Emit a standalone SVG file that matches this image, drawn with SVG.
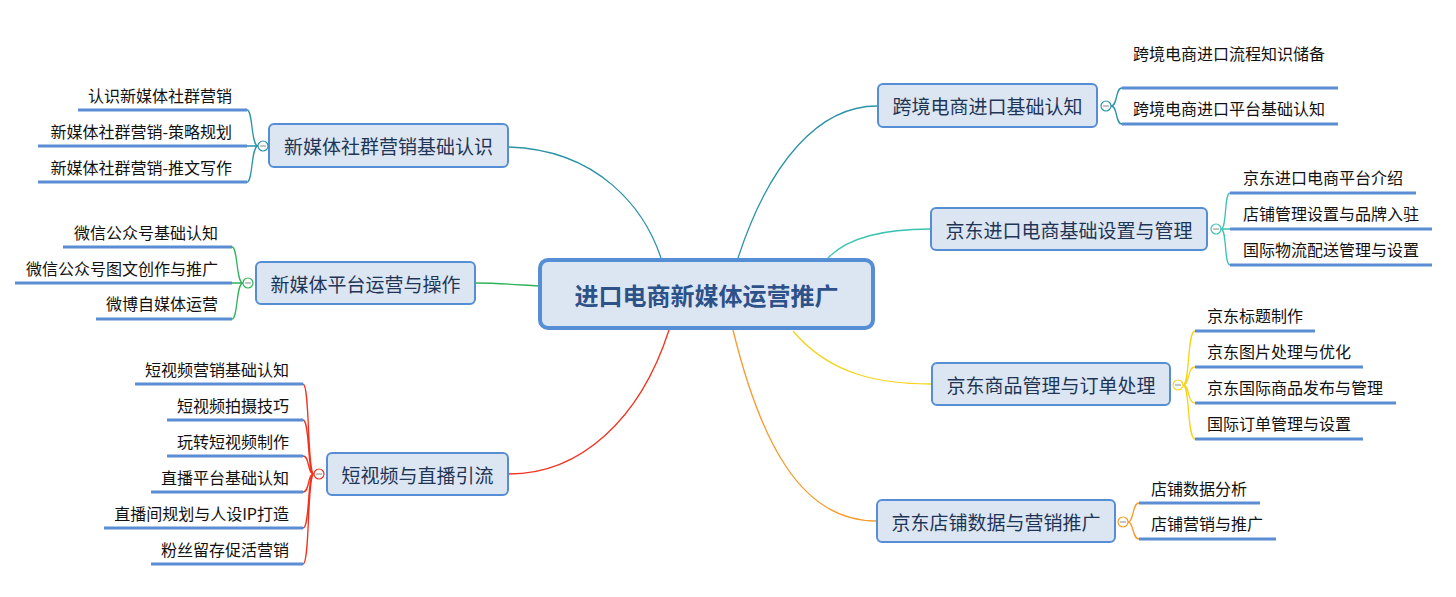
<svg xmlns="http://www.w3.org/2000/svg" width="1456" height="597" viewBox="0 0 1456 597">
<style>
text{font-family:"Noto Sans CJK SC","Microsoft YaHei",sans-serif;dominant-baseline:central}
.node rect{fill:#DCE6F2;stroke:#558ED5;stroke-width:2}
.nt{font-size:19px;fill:#1F3556;text-anchor:middle}
.ct{font-size:24px;font-weight:bold;fill:#2D5189;text-anchor:middle}
.leaf{font-size:16px;fill:#111}
.r{text-anchor:end}
.ul{stroke:#5B8DD4;stroke-width:3;fill:none}
.c{fill:none;stroke-width:1.3}
.dot{fill:#fff;stroke-width:1.2}
.minus{stroke:#888;stroke-width:1}
.teal{stroke:#2A93A6}.turq{stroke:#3CC2B3}.green{stroke:#2FB35A}.red{stroke:#F2321E}.yellow{stroke:#F5D41A}.orange{stroke:#F79A2A}
</style>
<rect width="1456" height="597" fill="#fff"/>
<g id="connectors">
<path class="c teal" d="M509,147 C600,150 645,210 661,258"/>
<path class="c teal" d="M738,258 C770,160 820,106 877,106"/>
<path class="c turq" d="M828,258 C850,235 890,229 930,229"/>
<path class="c green" d="M476,283 C500,283 520,285 538,286"/>
<path class="c red" d="M669,330 C640,420 580,474 509,474"/>
<path class="c orange" d="M733,330 C760,440 800,521 876,521"/>
<path class="c yellow" d="M793,331 C830,375 880,384 931,384"/>
<!-- A brackets -->
<path class="c teal" d="M258,146 C251,146 253,110 247,110 M258,146 L247,146 M258,146 C251,146 253,182 247,182"/>
<!-- B brackets -->
<path class="c green" d="M243,283 C236,283 238,247 232,247 M243,283 L232,283 M243,283 C236,283 238,319 232,319"/>
<!-- C brackets -->
<path class="c red" d="M314,474 C307,474 310,384 303,384 M314,474 C307,474 310,420 303,420 M314,474 C307,474 310,456 303,456 M314,474 C307,474 310,492 303,492 M314,474 C307,474 310,528 303,528 M314,474 C307,474 310,564 303,564"/>
<!-- D brackets -->
<path class="c teal" d="M1111,106 C1118,106 1115,88 1122,88 M1111,106 C1118,106 1115,124 1122,124"/>
<!-- E brackets -->
<path class="c turq" d="M1221,229 C1227,229 1224,193 1230,193 M1221,229 L1230,229 M1221,229 C1227,229 1224,265 1230,265"/>
<!-- F brackets -->
<path class="c yellow" d="M1183,385 C1190,385 1187,331 1195,331 M1183,385 C1190,385 1187,367 1195,367 M1183,385 C1190,385 1187,403 1195,403 M1183,385 C1190,385 1187,439 1195,439"/>
<!-- G brackets -->
<path class="c orange" d="M1128,522 C1134,522 1132,503 1139,503 M1128,522 C1134,522 1132,539 1139,539"/>
</g>
<g id="center">
<rect x="540" y="260" width="333" height="68" rx="8" fill="#DCE6F2" stroke="#558ED5" stroke-width="4"/>
<text class="ct" x="706.5" y="294">进口电商新媒体运营推广</text>
</g>
<g id="nodeA" class="node">
<rect x="269" y="124" width="239" height="43" rx="5"/>
<text class="nt" x="388.5" y="145.5">新媒体社群营销基础认识</text>
<circle class="dot teal" cx="263" cy="146" r="5"/><line class="minus" x1="260" y1="146" x2="266" y2="146"/>
</g>
<g id="nodeA-children">
<line class="ul" x1="78" y1="110" x2="247" y2="110"/><text class="leaf r" x="232" y="95">认识新媒体社群营销</text>
<line class="ul" x1="38" y1="146" x2="247" y2="146"/><text class="leaf r" x="232" y="131">新媒体社群营销-策略规划</text>
<line class="ul" x1="38" y1="182" x2="247" y2="182"/><text class="leaf r" x="232" y="167">新媒体社群营销-推文写作</text>
</g>
<g id="nodeB" class="node">
<rect x="256" y="262" width="219" height="42" rx="5"/>
<text class="nt" x="365.5" y="283">新媒体平台运营与操作</text>
<circle class="dot green" cx="248" cy="283" r="5"/><line class="minus" x1="245" y1="283" x2="251" y2="283"/>
</g>
<g id="nodeB-children">
<line class="ul" x1="63" y1="247" x2="232" y2="247"/><text class="leaf r" x="218" y="232">微信公众号基础认知</text>
<line class="ul" x1="15" y1="283" x2="232" y2="283"/><text class="leaf r" x="218" y="268">微信公众号图文创作与推广</text>
<line class="ul" x1="96" y1="319" x2="232" y2="319"/><text class="leaf r" x="218" y="303">微博自媒体运营</text>
</g>
<g id="nodeC" class="node">
<rect x="327" y="453" width="181" height="42" rx="5"/>
<text class="nt" x="417.5" y="474">短视频与直播引流</text>
<circle class="dot red" cx="319" cy="474" r="5"/><line class="minus" x1="316" y1="474" x2="322" y2="474"/>
</g>
<g id="nodeC-children">
<line class="ul" x1="135" y1="384" x2="303" y2="384"/><text class="leaf r" x="289" y="369">短视频营销基础认知</text>
<line class="ul" x1="167" y1="420" x2="303" y2="420"/><text class="leaf r" x="289" y="405">短视频拍摄技巧</text>
<line class="ul" x1="167" y1="456" x2="303" y2="456"/><text class="leaf r" x="289" y="441">玩转短视频制作</text>
<line class="ul" x1="151" y1="492" x2="303" y2="492"/><text class="leaf r" x="289" y="477">直播平台基础认知</text>
<line class="ul" x1="104" y1="528" x2="303" y2="528"/><text class="leaf r" x="289" y="513">直播间规划与人设IP打造</text>
<line class="ul" x1="151" y1="564" x2="303" y2="564"/><text class="leaf r" x="289" y="549">粉丝留存促活营销</text>
</g>
<g id="nodeD" class="node">
<rect x="878" y="84" width="219" height="43" rx="5"/>
<text class="nt" x="987.5" y="105.5">跨境电商进口基础认知</text>
<circle class="dot teal" cx="1106" cy="106" r="5"/><line class="minus" x1="1103" y1="106" x2="1109" y2="106"/>
</g>
<g id="nodeD-children">
<line class="ul" x1="1122" y1="88" x2="1338" y2="88"/><text class="leaf" x="1133" y="53">跨境电商进口流程知识储备</text>
<line class="ul" x1="1122" y1="124" x2="1338" y2="124"/><text class="leaf" x="1133" y="108">跨境电商进口平台基础认知</text>
</g>
<g id="nodeE" class="node">
<rect x="931" y="208" width="276" height="42" rx="5"/>
<text class="nt" x="1069" y="229">京东进口电商基础设置与管理</text>
<circle class="dot turq" cx="1216" cy="229" r="5"/><line class="minus" x1="1213" y1="229" x2="1219" y2="229"/>
</g>
<g id="nodeE-children">
<line class="ul" x1="1230" y1="193" x2="1416" y2="193"/><text class="leaf" x="1243" y="177">京东进口电商平台介绍</text>
<line class="ul" x1="1230" y1="229" x2="1432" y2="229"/><text class="leaf" x="1243" y="213">店铺管理设置与品牌入驻</text>
<line class="ul" x1="1230" y1="265" x2="1432" y2="265"/><text class="leaf" x="1243" y="249">国际物流配送管理与设置</text>
</g>
<g id="nodeF" class="node">
<rect x="932" y="363" width="238" height="42" rx="5"/>
<text class="nt" x="1051" y="384">京东商品管理与订单处理</text>
<circle class="dot yellow" cx="1178" cy="385" r="5"/><line class="minus" x1="1175" y1="385" x2="1181" y2="385"/>
</g>
<g id="nodeF-children">
<line class="ul" x1="1195" y1="331" x2="1315" y2="331"/><text class="leaf" x="1207" y="315">京东标题制作</text>
<line class="ul" x1="1195" y1="367" x2="1363" y2="367"/><text class="leaf" x="1207" y="351">京东图片处理与优化</text>
<line class="ul" x1="1195" y1="403" x2="1396" y2="403"/><text class="leaf" x="1207" y="387">京东国际商品发布与管理</text>
<line class="ul" x1="1195" y1="439" x2="1363" y2="439"/><text class="leaf" x="1207" y="423">国际订单管理与设置</text>
</g>
<g id="nodeG" class="node">
<rect x="877" y="500" width="238" height="42" rx="5"/>
<text class="nt" x="996" y="521">京东店铺数据与营销推广</text>
<circle class="dot orange" cx="1123" cy="522" r="5"/><line class="minus" x1="1120" y1="522" x2="1126" y2="522"/>
</g>
<g id="nodeG-children">
<line class="ul" x1="1139" y1="503" x2="1260" y2="503"/><text class="leaf" x="1151" y="488">店铺数据分析</text>
<line class="ul" x1="1139" y1="539" x2="1276" y2="539"/><text class="leaf" x="1151" y="523">店铺营销与推广</text>
</g>
</svg>
